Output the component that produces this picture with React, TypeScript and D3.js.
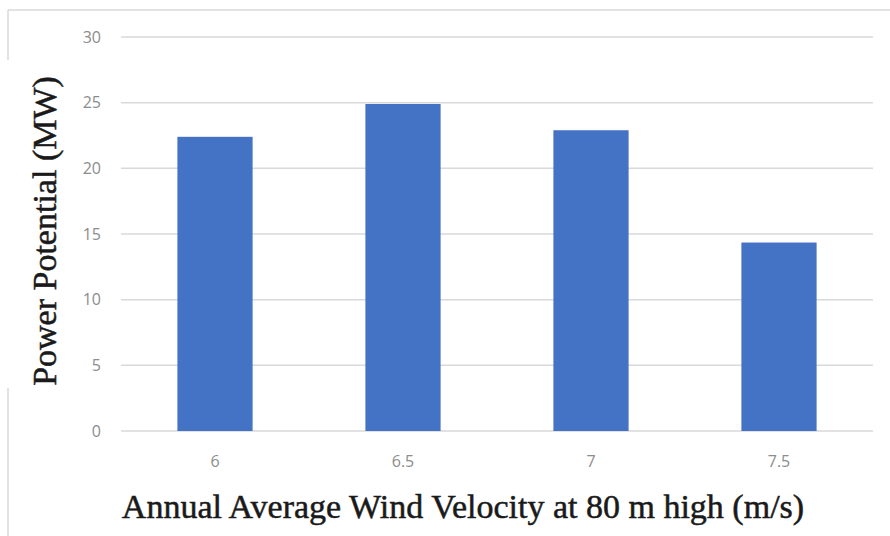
import React from "react";
import * as d3 from "d3";

const categories = ["6", "6.5", "7", "7.5"];
const values = [22.4, 24.9, 22.9, 14.35];
const yTicks = [0, 5, 10, 15, 20, 25, 30];
const xTitle = "Annual Average Wind Velocity at 80 m high (m/s)";
const yTitle = "Power Potential (MW)";

const serif = "'Liberation Serif', Tinos, 'Times New Roman', 'DejaVu Serif', serif";
const sans = "'Open Sans', 'Liberation Sans', sans-serif";

export default function App() {
  const W = 890, H = 536;
  const left = 121, right = 873, top = 37, bottom = 431;
  const x = d3.scaleBand<string>().domain(categories).range([left, right]).paddingInner(0.6).paddingOuter(0.3);
  const y = d3.scaleLinear().domain([0, 30]).range([bottom, top]);
  return (
    <svg width={W} height={H} style={{ position: "absolute", left: 0, top: 0, background: "#fff" }}>
      <rect x={0} y={0} width={W} height={H} fill="#fff" />
      <line x1={8} x2={W} y1={10} y2={10} stroke="#d9d9d9" strokeWidth={1.5} />
      <line x1={8} x2={8} y1={10} y2={60} stroke="#d9d9d9" strokeWidth={1.5} />
      <line x1={8} x2={8} y1={388} y2={H} stroke="#d9d9d9" strokeWidth={1.5} />
      {yTicks.map((t) => (
        <g key={t}>
          <line x1={left} x2={right} y1={y(t)} y2={y(t)} stroke="#d9d9d9" strokeWidth={1.5} />
          <text x={101} y={y(t)} dy="0.35em" textAnchor="end" style={{ fontFamily: sans }} fontSize={16} fill="#8c8c8c">{t}</text>
        </g>
      ))}
      {categories.map((c, i) => (
        <g key={c}>
          <rect x={x(c)} y={y(values[i])} width={x.bandwidth()} height={bottom - y(values[i])} fill="#4472C4" />
          <text x={(x(c) as number) + x.bandwidth() / 2} y={461} dy="0.35em" textAnchor="middle" style={{ fontFamily: sans }} fontSize={16} fill="#8c8c8c">{c}</text>
        </g>
      ))}
      <text x={463} y={518} textAnchor="middle" style={{ fontFamily: serif }} fontSize={34} fill="#1a1a1a" stroke="#1a1a1a" strokeWidth={0.5}>{xTitle}</text>
      <text transform={`translate(56,231) rotate(-90)`} textAnchor="middle" style={{ fontFamily: serif }} fontSize={34} fill="#1a1a1a" stroke="#1a1a1a" strokeWidth={0.5}>{yTitle}</text>
    </svg>
  );
}
